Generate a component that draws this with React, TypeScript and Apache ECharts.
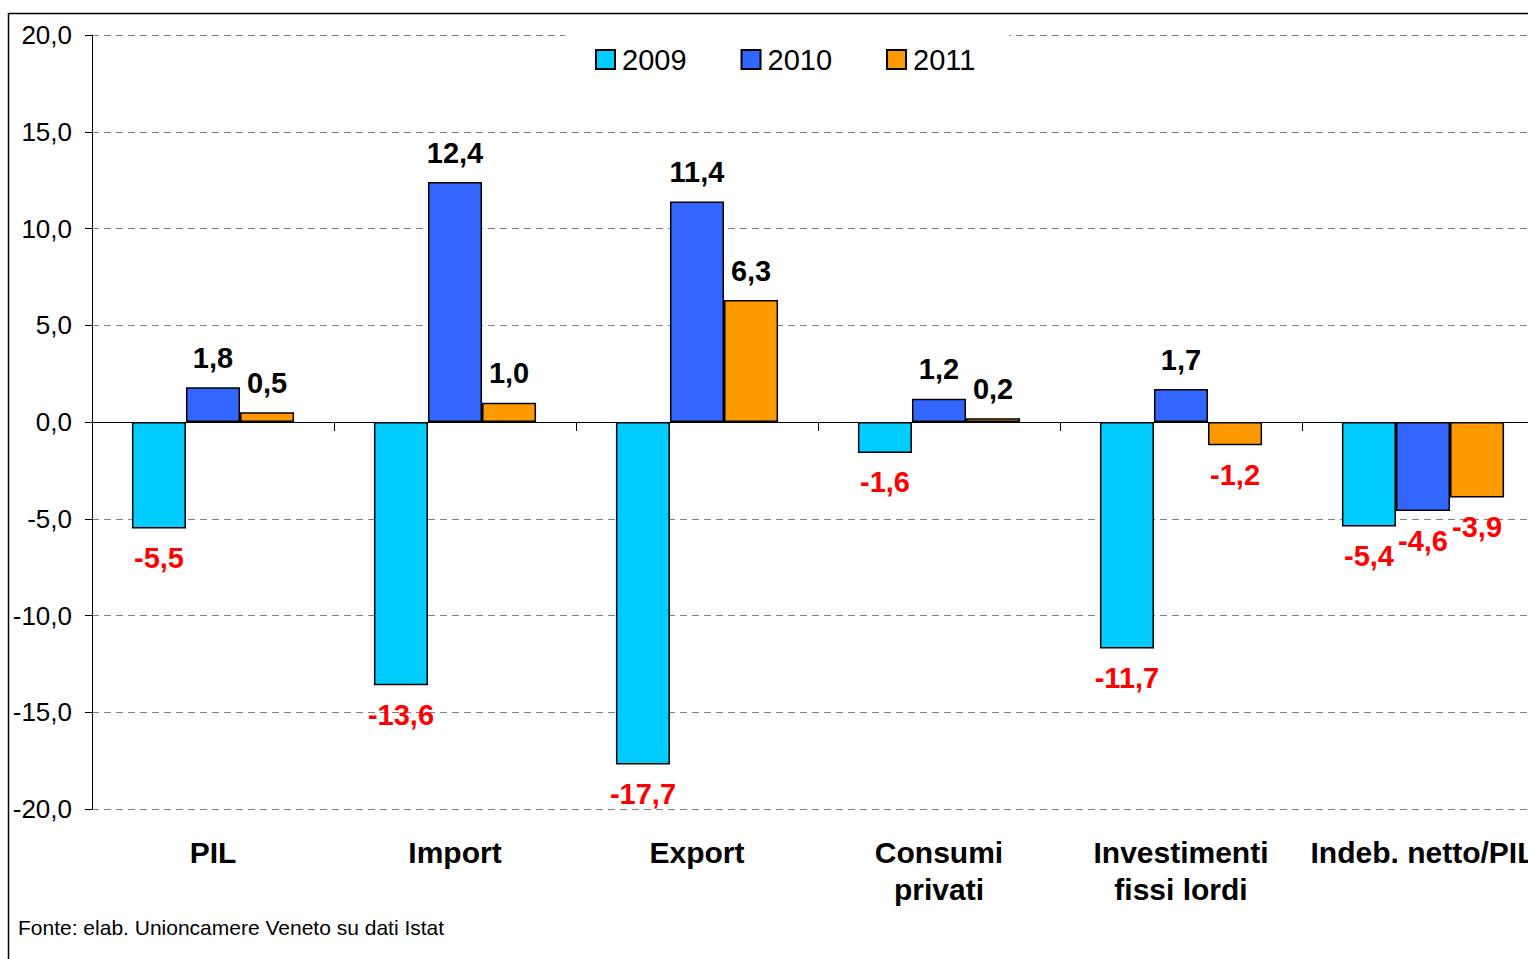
import React, { useEffect, useRef } from "react";
import * as echarts from "echarts";

const categories = ["PIL", "Import", "Export", "Consumi\nprivati", "Investimenti\nfissi lordi", "Indeb. netto/PIL"];
const seriesNames = ["2009", "2010", "2011"];
const values2009 = [-5.5, -13.6, -17.7, -1.6, -11.7, -5.4];
const values2010 = [1.8, 12.4, 11.4, 1.2, 1.7, -4.6];
const values2011 = [0.5, 1.0, 6.3, 0.2, -1.2, -3.9];
const colors = ["#00CCFF", "#3366FF", "#FF9900"];
const yTicks = { min: -20, max: 20, interval: 5 };
const footnote = "Fonte: elab. Unioncamere Veneto su dati Istat";

const FONT = "'Liberation Sans', Arial, sans-serif";
const fmt = (v: number) => v.toFixed(1).replace(".", ",");

export default function App() {
  const ref = useRef<HTMLDivElement>(null);
  useEffect(() => {
    if (!ref.current) return;
    const chart = echarts.init(ref.current, null, { renderer: "svg" });
    const allValues = [values2009, values2010, values2011];
    const series = allValues.map((vals, i) => ({
      name: seriesNames[i],
      type: "bar",
      xAxisIndex: 0,
      barGap: "0%",
      barCategoryGap: "33%",
      itemStyle: { color: colors[i], borderColor: "#000", borderWidth: 1.5 },
      data: vals.map((v) => ({
        value: v,
        label: {
          show: true,
          position: v < 0 ? "bottom" : "top",
          distance: 15,
          color: v < 0 ? "#FF0000" : "#000",
          fontFamily: FONT,
          fontWeight: "bold",
          fontSize: 29,
          formatter: () => fmt(v),
        },
      })),
    }));
    chart.setOption({
      animation: false,
      backgroundColor: "#fff",
      textStyle: { fontFamily: FONT },
      grid: { left: 92, top: 35, width: 1452, height: 774, containLabel: false },
      legend: {
        data: seriesNames,
        left: 565,
        top: 30,
        padding: [15, 34, 10, 30],
        backgroundColor: "#fff",
        itemWidth: 19,
        itemHeight: 19,
        itemGap: 54,
        icon: "rect",
        textStyle: { fontFamily: FONT, fontSize: 29, color: "#000", padding: [0, 0, 0, 2] },
        z: 10,
      },
      xAxis: [
        {
          type: "category",
          data: categories,
          position: "bottom",
          axisLine: { onZero: true, lineStyle: { color: "#000", width: 1 } },
          axisTick: { show: true, length: 9, lineStyle: { color: "#000" } },
          axisLabel: { show: false },
          splitLine: { show: false },
        },
        {
          type: "category",
          data: categories,
          position: "bottom",
          axisLine: { show: false, onZero: false },
          axisTick: { show: false },
          axisLabel: {
            interval: 0,
            margin: 25,
            fontFamily: FONT,
            fontWeight: "bold",
            fontSize: 30,
            lineHeight: 37,
            color: "#000",
            align: "center",
          },
        },
      ],
      yAxis: {
        type: "value",
        min: yTicks.min,
        max: yTicks.max,
        interval: yTicks.interval,
        axisLine: { show: true, lineStyle: { color: "#000", width: 1 } },
        axisTick: { show: true, length: 7, lineStyle: { color: "#000" } },
        axisLabel: { margin: 20, fontFamily: FONT, fontSize: 26, color: "#000", formatter: (v: number) => fmt(v) },
        splitLine: {
          show: true,
          lineStyle: { color: "#808080", type: [7, 5], width: 1 },
        },
      },
      series,
      graphic: [
        {
          type: "rect",
          shape: { x: 8.5, y: 13.5, width: 2000, height: 2000 },
          style: { fill: "none", stroke: "#000", lineWidth: 1.5 },
          silent: true,
        },
        {
          type: "text",
          left: 18,
          top: 917,
          style: { text: footnote, fontFamily: FONT, fontSize: 21, fill: "#000" },
        },
      ],
    });
    return () => chart.dispose();
  }, []);
  return (
    <div style={{ position: "fixed", left: 0, top: 0, width: 1528, height: 959, overflow: "hidden", background: "#fff" }}>
      <div ref={ref} style={{ position: "absolute", left: 0, top: 0, width: 1570, height: 959 }} />
    </div>
  );
}
